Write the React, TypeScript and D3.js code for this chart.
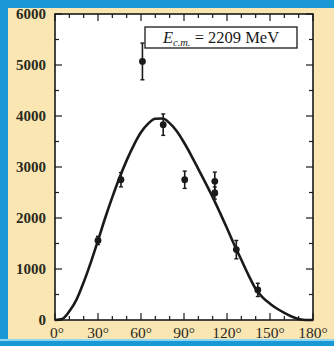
import React from "react";
import * as d3 from "d3";

const pointAngles = [30, 46, 61, 75.5, 90.5, 111.5, 111.5, 126.5, 141.5];
const pointValues = [1560, 2750, 5070, 3830, 2750, 2720, 2490, 1380, 590];
const pointErrors = [80, 140, 360, 210, 170, 180, 120, 180, 130];

const curveAngles = [0, 5, 10, 15, 20, 25, 30, 35, 40, 45, 50, 55, 60, 65, 70, 75, 80, 85, 90, 95, 100, 105, 110, 115, 120, 125, 130, 135, 140, 145, 150, 155, 160, 165, 170, 175, 180];
const curveValues = [0, 20, 170, 400, 740, 1130, 1560, 2000, 2410, 2790, 3130, 3430, 3680, 3850, 3945, 3950, 3860, 3700, 3480, 3230, 2960, 2690, 2410, 2110, 1800, 1480, 1180, 880, 610, 440, 320, 220, 140, 70, 20, 0, 0];

const xTickLabels = [0, 30, 60, 90, 120, 150, 180];
const yTickLabels = [0, 1000, 2000, 3000, 4000, 5000, 6000];

const W = 334;
const H = 346;
const L = 55, R = 313, T = 14, B = 320;

export default function App() {
  const x = d3.scaleLinear().domain([0, 180]).range([L, R]);
  const y = d3.scaleLinear().domain([0, 6000]).range([B, T]);
  const line = d3
    .line<number>()
    .x((_, i) => x(curveAngles[i]))
    .y((d) => y(d))
    .curve(d3.curveMonotoneX);

  const xMinor = d3.range(0, 181, 10);
  const yMinor = d3.range(0, 6001, 500);
  const font = "'Liberation Serif', 'DejaVu Serif', serif";

  return (
    <svg
      width={W}
      height={H}
      style={{ position: "fixed", left: 0, top: 0, display: "block" }}
    >
      <rect x={0} y={0} width={W} height={H} fill="#f9e6b2" />
      <rect x={0} y={0} width={W} height={8} fill="#1a98d5" />
      <rect x={0} y={0} width={8} height={H} fill="#1a98d5" />
      <rect x={0} y={339} width={W} height={7} fill="#1a98d5" />
      <rect x={0} y={339} width={W} height={2} fill="#8fd6f0" />
      <rect x={L} y={T} width={R - L} height={B - T} fill="#ffffff" />

      {/* ticks */}
      {xMinor.map((v) => {
        const len = v % 30 === 0 ? 7 : 4;
        return (
          <g key={"xt" + v} stroke="#1a1a1a" strokeWidth={1.2}>
            <line x1={x(v)} x2={x(v)} y1={B} y2={B - len} />
            <line x1={x(v)} x2={x(v)} y1={T} y2={T + len} />
          </g>
        );
      })}
      {yMinor.map((v) => {
        const len = v % 1000 === 0 ? 7 : 4;
        return (
          <g key={"yt" + v} stroke="#1a1a1a" strokeWidth={1.2}>
            <line x1={L} x2={L + len} y1={y(v)} y2={y(v)} />
            <line x1={R} x2={R - len} y1={y(v)} y2={y(v)} />
          </g>
        );
      })}

      {/* curve */}
      <path d={line(curveValues) || ""} fill="none" stroke="#1a1a1a" strokeWidth={2.6} />

      {/* points */}
      {pointAngles.map((a, i) => {
        const cx = x(a);
        const v = pointValues[i];
        const e = pointErrors[i];
        return (
          <g key={"p" + i} stroke="#1a1a1a" fill="#1a1a1a">
            <line x1={cx} x2={cx} y1={y(v + e)} y2={y(v - e)} strokeWidth={1.6} />
            <line x1={cx - 2} x2={cx + 2} y1={y(v + e)} y2={y(v + e)} strokeWidth={1.4} />
            <line x1={cx - 2} x2={cx + 2} y1={y(v - e)} y2={y(v - e)} strokeWidth={1.4} />
            <circle cx={cx} cy={y(v)} r={3.4} stroke="none" />
          </g>
        );
      })}

      {/* frame */}
      <rect x={L} y={T} width={R - L} height={B - T} fill="none" stroke="#1a1a1a" strokeWidth={1.6} />

      {/* legend */}
      <rect x={145} y={27} width={152} height={21} fill="#ffffff" stroke="#1a1a1a" strokeWidth={1.3} />
      <text x={221} y={43} textAnchor="middle" fontFamily={font} fontSize={16.5} fill="#1a1a1a">
        <tspan fontStyle="italic">E</tspan>
        <tspan fontStyle="italic" fontSize={10.5} dy={3}>c.m.</tspan>
        <tspan dy={-3}> = 2209 MeV</tspan>
      </text>

      {/* axis labels */}
      {xTickLabels.map((v) => (
        <text
          key={"xl" + v}
          x={x(v) + (v === 0 ? 2 : 0)}
          y={338}
          textAnchor="middle"
          fontFamily={font}
          fontSize={15.5}
          fill="#2a2a1e"
        >
          {v}°
        </text>
      ))}
      {yTickLabels.map((v) => (
        <text
          key={"yl" + v}
          x={46}
          y={y(v) + 5}
          textAnchor="end"
          fontFamily={font}
          fontSize={15}
          fontWeight="bold"
          fill="#2a2a1e"
        >
          {v}
        </text>
      ))}
    </svg>
  );
}
